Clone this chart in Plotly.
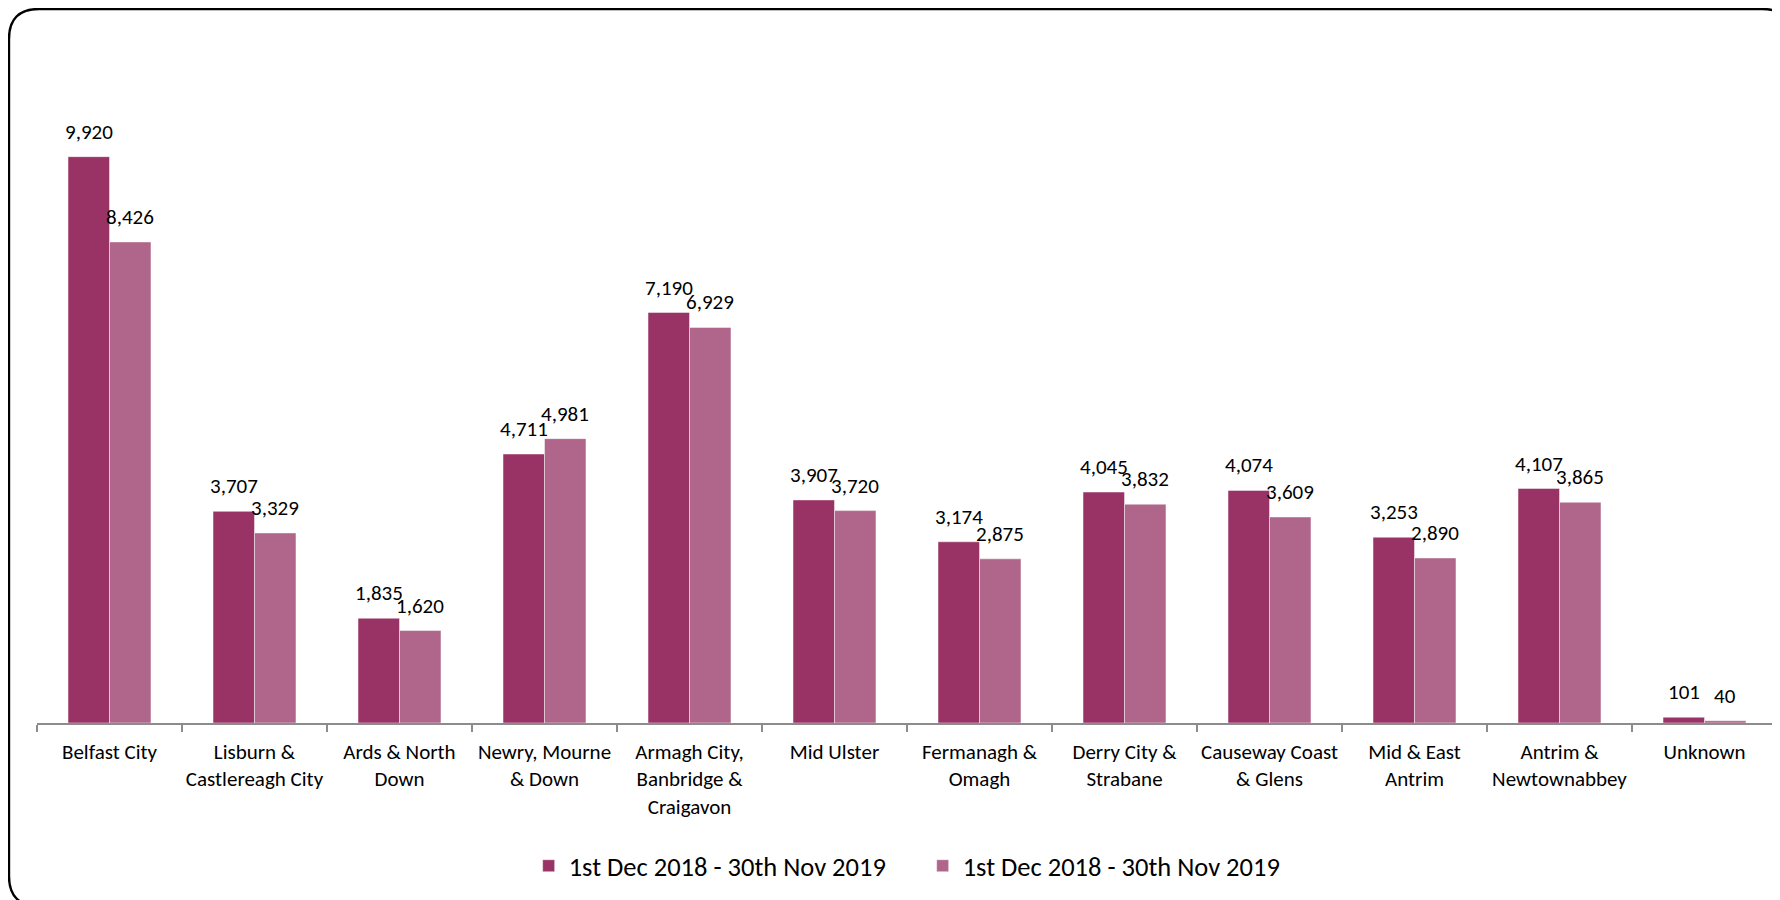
import plotly.graph_objects as go

categories = [
    "Belfast City", "Lisburn &<br>Castlereagh City", "Ards & North<br>Down",
    "Newry, Mourne<br>& Down", "Armagh City,<br>Banbridge &<br>Craigavon", "Mid Ulster",
    "Fermanagh &<br>Omagh", "Derry City &<br>Strabane", "Causeway Coast<br>& Glens",
    "Mid & East<br>Antrim", "Antrim &<br>Newtownabbey", "Unknown",
]
series1_name = "1st Dec 2018 - 30th Nov 2019"
series2_name = "1st Dec 2018 - 30th Nov 2019"
series1 = [9920, 3707, 1835, 4711, 7190, 3907, 3174, 4045, 4074, 3253, 4107, 101]
series2 = [8426, 3329, 1620, 4981, 6929, 3720, 2875, 3832, 3609, 2890, 3865, 40]

W, H = 1772, 892
ML, MR, MT, MB = 29, 3, 87, 177
FONT = "Carlito, Calibri, Lato, sans-serif"
c1, c2 = "#993366", "#B0668A"
bargap = 0.428

fig = go.Figure()
fig.add_trace(go.Bar(x=categories, y=series1, name=series1_name, marker_color=c1,
                     marker_line=dict(color="rgba(255,255,255,0.45)", width=1)))
fig.add_trace(go.Bar(x=categories, y=series2, name=series2_name, marker_color=c2,
                     marker_line=dict(color="rgba(255,255,255,0.45)", width=1)))

plot_w = W - ML - MR
cat_w = plot_w / len(categories)
bar_w = cat_w * (1 - bargap) / 2
ann = []
for vals, sh in ((series1, -bar_w / 2), (series2, bar_w / 2)):
    for c, v in zip(categories, vals):
        ann.append(dict(x=c, y=v, text=f"{v:,}", showarrow=False, xshift=sh, yshift=25,
                        yanchor="middle", font=dict(family=FONT, size=21, color="#000")))

plot_h = H - MT - MB
def px(x):
    return (x - ML) / plot_w
def py(y):
    return (H - MB - y) / plot_h
x0, x1, y0, y1, r = 1, 1784, 1, 898, 30
path = (f"M {px(x0)},{py(y1 - r)} L {px(x0)},{py(y0 + r)} Q {px(x0)},{py(y0)} {px(x0 + r)},{py(y0)} "
        f"L {px(x1 - r)},{py(y0)} Q {px(x1)},{py(y0)} {px(x1)},{py(y0 + r)} "
        f"L {px(x1)},{py(y1 - r)} Q {px(x1)},{py(y1)} {px(x1 - r)},{py(y1)} "
        f"L {px(x0 + r)},{py(y1)} Q {px(x0)},{py(y1)} {px(x0)},{py(y1 - r)} Z")

fig.update_layout(
    width=W, height=H, barmode="group", bargap=bargap, bargroupgap=0,
    margin=dict(l=ML, r=MR, t=MT, b=MB),
    plot_bgcolor="white", paper_bgcolor="white",
    font=dict(family=FONT, size=21, color="#000"),
    xaxis=dict(showline=True, linecolor="#8c8c8c", linewidth=1.5, ticks="outside",
               tickson="boundaries", ticklen=7, tickcolor="#8c8c8c", tickwidth=1.5,
               tickangle=0, tickfont=dict(family=FONT, size=21), ticklabelstandoff=9,
               showgrid=False),
    yaxis=dict(range=[0, 11000], visible=False, showgrid=False),
    legend=dict(orientation="h", x=0.509, xanchor="center", y=py(858), yanchor="middle",
                font=dict(family=FONT, size=26.5), entrywidth=349, traceorder="normal"),
    annotations=ann,
    shapes=[dict(type="path", path=path, xref="paper", yref="paper",
                 line=dict(color="#000", width=2.4), layer="below")],
)
fig.write_html("out.html")
